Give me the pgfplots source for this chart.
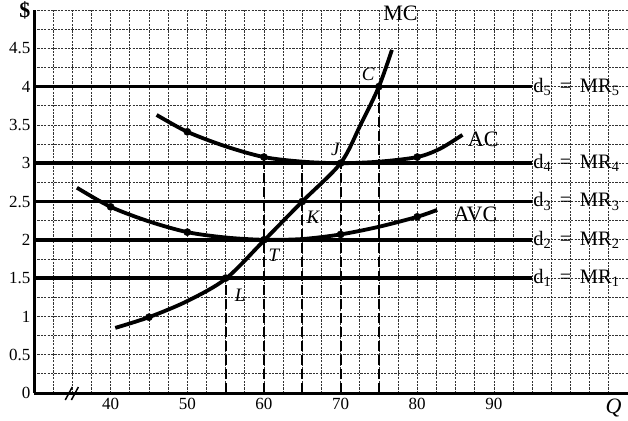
\documentclass[border=0pt]{standalone}
\usepackage{fontspec}
\setmainfont{Liberation Serif}
\usepackage{pgfplots}
\pgfplotsset{compat=1.18}
\begin{document}
\begin{tikzpicture}
\begin{axis}[
  scale only axis, width=594pt, height=383pt,
  xmin=30, xmax=107.5, ymin=0, ymax=5,
  axis x line=bottom, axis y line=left,
  axis line style={line width=3pt,-},
  xtick={40,50,...,90},
  ytick={0,0.5,1,1.5,2,2.5,3,3.5,4,4.5,5},
  yticklabels={0,0.5,1,1.5,2,2.5,3,3.5,4,4.5,{\fontsize{22}{24}\selectfont\textbf{\$}}},
  minor xtick={30,32.5,...,107.5},
  minor ytick={0,0.25,...,5},
  grid=both,
  grid style={black!80, line width=0.75pt, dash pattern=on 2.2pt off 1.2pt},
  major grid style={black!80, line width=0.75pt, dash pattern=on 2.2pt off 1.2pt},
  major tick length=0pt, minor tick length=0pt,
  tick label style={font=\fontsize{17}{19}\selectfont},
  xticklabel style={yshift=-2pt},
  /pgf/number format/assume math mode=true,
  clip=false,
]
% horizontal demand lines
\addplot[line width=3.4pt] coordinates {(30,4) (95,4)};
\addplot[line width=3.4pt] coordinates {(30,3) (95,3)};
\addplot[line width=3.4pt] coordinates {(30,2.5) (95,2.5)};
\addplot[line width=3.4pt] coordinates {(30,2) (95,2)};
\addplot[line width=3.4pt] coordinates {(30,1.5) (95,1.5)};
% dashed verticals
\addplot[line width=2pt, dash pattern=on 10pt off 4pt] coordinates {(55,0) (55,1.5)};
\addplot[line width=2pt, dash pattern=on 10pt off 4pt] coordinates {(60,0) (60,3.08)};
\addplot[line width=2pt, dash pattern=on 10pt off 4pt] coordinates {(65,0) (65,3.0)};
\addplot[line width=2pt, dash pattern=on 10pt off 4pt] coordinates {(70,0) (70,3.0)};
\addplot[line width=2pt, dash pattern=on 10pt off 4pt] coordinates {(75,0) (75,4.0)};
% MC
\addplot[line width=3.8pt, smooth] coordinates {(40.6,0.85) (45,0.99) (50,1.2) (55,1.49) (60,1.99) (65,2.5) (70,3.0) (72.6,3.5) (75,4.0) (76.7,4.48)};
% AVC
\addplot[line width=3.8pt, smooth] coordinates {(35.6,2.68) (40,2.43) (45,2.24) (50,2.1) (55,2.03) (60,2.0) (65,2.01) (70,2.07) (75,2.17) (80,2.3) (82.6,2.39)};
% AC
\addplot[line width=3.8pt, smooth] coordinates {(46,3.63) (50,3.41) (55,3.22) (60,3.08) (65,3.02) (70,3.0) (75,3.02) (80,3.08) (83,3.19) (85.9,3.37)};
% dots
\addplot[only marks, mark=*, mark size=3.6pt] coordinates {(45,0.99) (50,3.41) (60,3.08) (80,3.08) (40,2.43) (50,2.1) (70,2.07) (80,2.3) (65,2.5) (75,4.0) (70,3.0) (60,2.0) (55,1.5)};
% labels
\node[font=\fontsize{22}{24}\selectfont] at (axis cs:77.8,4.96) {MC};
\node[font=\fontsize{22}{24}\selectfont] at (axis cs:88.6,3.31) {AC};
\node[font=\fontsize{22}{24}\selectfont] at (axis cs:87.6,2.33) {AVC};
\node[font=\fontsize{19}{21}\selectfont\itshape] at (axis cs:73.6,4.16) {C};
\node[font=\fontsize{19}{21}\selectfont\itshape] at (axis cs:69.3,3.18) {J};
\node[font=\fontsize{19}{21}\selectfont\itshape] at (axis cs:66.4,2.3) {K};
\node[font=\fontsize{19}{21}\selectfont\itshape] at (axis cs:61.3,1.8) {T};
\node[font=\fontsize{19}{21}\selectfont\itshape] at (axis cs:56.9,1.27) {L};
\node[font=\fontsize{20.5}{22}\selectfont, anchor=west, inner sep=1pt] at (axis cs:95,4) {d\textsubscript{5} \,=\, MR\textsubscript{5}};
\node[font=\fontsize{20.5}{22}\selectfont, anchor=west, inner sep=1pt] at (axis cs:95,3) {d\textsubscript{4} \,=\, MR\textsubscript{4}};
\node[font=\fontsize{20.5}{22}\selectfont, anchor=west, inner sep=1pt] at (axis cs:95,2.5) {d\textsubscript{3} \,=\, MR\textsubscript{3}};
\node[font=\fontsize{20.5}{22}\selectfont, anchor=west, inner sep=1pt] at (axis cs:95,2) {d\textsubscript{2} \,=\, MR\textsubscript{2}};
\node[font=\fontsize{20.5}{22}\selectfont, anchor=west, inner sep=1pt] at (axis cs:95,1.5) {d\textsubscript{1} \,=\, MR\textsubscript{1}};
\node[font=\fontsize{22}{24}\selectfont\itshape] at (axis cs:105.6,-0.2) {Q};
% axis break
\draw[line width=1.5pt] (axis cs:34.6,0) ++(-4pt,-7pt) -- ++(7pt,13pt);
\draw[line width=1.5pt] (axis cs:35.4,0) ++(-4pt,-7pt) -- ++(7pt,13pt);
\end{axis}
\pgfresetboundingbox
\useasboundingbox (-34pt,-27pt) rectangle (594pt,393pt);
\end{tikzpicture}
\end{document}
